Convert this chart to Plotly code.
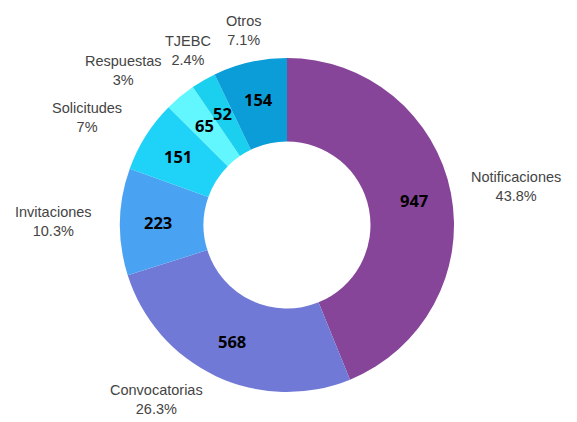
import math
import plotly.graph_objects as go

categories = ["Notificaciones", "Convocatorias", "Invitaciones", "Solicitudes",
              "Respuestas", "TJEBC", "Otros"]
values = [947, 568, 223, 151, 65, 52, 154]
percent_labels = ["43.8%", "26.3%", "10.3%", "7%", "3%", "2.4%", "7.1%"]
colors = ["#874599", "#7179D6", "#4AA3F2", "#1FD2F8", "#62F7FE", "#1AD0EE", "#0A9DD8"]

W, H = 577, 422
CX, CY, RADIUS = 287, 225, 167  # pie centre and radius in pixels (y from top)
HOLE = 0.5

fig = go.Figure()
fig.add_trace(go.Pie(
    labels=categories,
    values=values,
    textinfo="none",
    marker=dict(colors=colors, line=dict(width=0)),
    hole=HOLE,
    sort=False,
    direction="clockwise",
    rotation=0,
    showlegend=False,
    hoverinfo="label+value+percent",
    domain=dict(x=[(CX - RADIUS) / W, (CX + RADIUS) / W],
                y=[(H - CY - RADIUS) / H, (H - CY + RADIUS) / H]),
))


def to_paper(px, py):
    return px / W, 1 - py / H


total = sum(values)
cum = 0
annotations = []
VALUE_R = 129                  # value labels sit mid-ring
SIDE_RX_LEFT, SIDE_RX_RIGHT = 193, 185
SIDE_RY_UP, SIDE_RY_DOWN = 201, 193
TOP_RX, TOP_RY = 197, 179      # labels stacked above the ring
for name, pct, v in zip(categories, percent_labels, values):
    mid = (cum + v / 2) / total * 2 * math.pi
    cum += v
    s, c = math.sin(mid), math.cos(mid)

    # value inside the slice
    x, y = to_paper(CX + VALUE_R * s, CY - VALUE_R * c)
    annotations.append(dict(
        x=x, y=y, xref="paper", yref="paper", text=f"<b>{v}</b>",
        showarrow=False, xanchor="center", yanchor="middle",
        font=dict(family="Open Sans", size=16.5, color="#000000"),
    ))

    # category name and share outside the ring
    if c > 0.8:
        x, y = to_paper(CX + TOP_RX * s, CY - TOP_RY * c)
        xa, ya = "center", "bottom"
    else:
        rx = SIDE_RX_RIGHT if s > 0 else SIDE_RX_LEFT
        ry = SIDE_RY_UP if c > 0 else SIDE_RY_DOWN
        x, y = to_paper(CX + rx * s, CY - ry * c)
        xa = "left" if s > 0 else "right"
        ya = "middle"
    annotations.append(dict(
        x=x, y=y, xref="paper", yref="paper",
        text=f"{name}<br>{pct}", showarrow=False,
        xanchor=xa, yanchor=ya, align="center",
        font=dict(family="Liberation Sans", size=14.5, color="#444444"),
    ))

fig.update_layout(
    width=W, height=H,
    margin=dict(l=0, r=0, t=0, b=0),
    paper_bgcolor="#FFFFFF",
    plot_bgcolor="#FFFFFF",
    annotations=annotations,
)

fig.write_html("out.html")
